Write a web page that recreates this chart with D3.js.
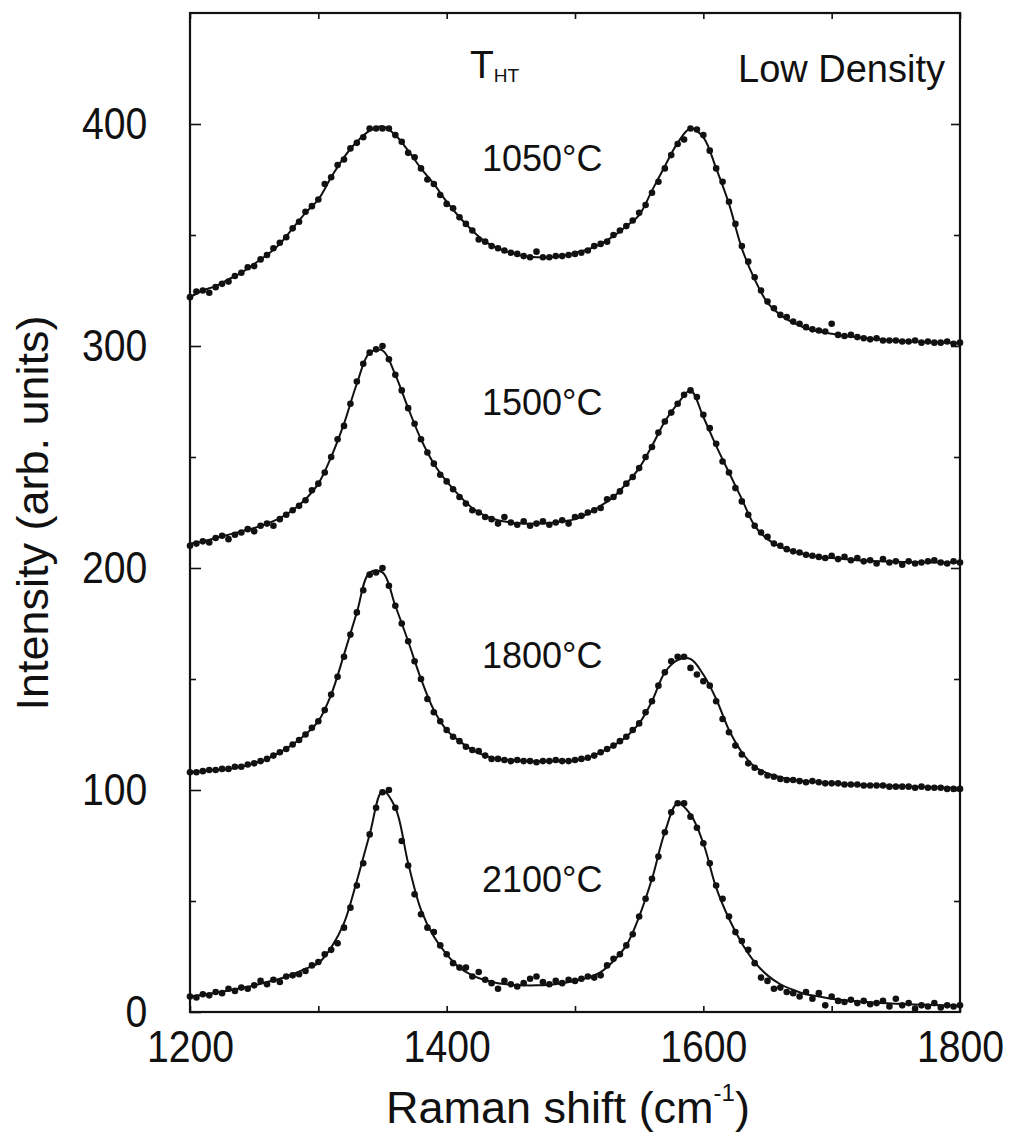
<!DOCTYPE html>
<html><head><meta charset="utf-8">
<script src="https://cdn.jsdelivr.net/npm/d3@7"></script>
<style>
body{margin:0;background:#fff}
text{font-family:"Liberation Sans",Arial,Helvetica,sans-serif;fill:#111}
</style>
</head><body><svg id="c" width="1016" height="1134"></svg>
<script>
// ---- data ----
const fitShift = d3.range(1200, 1801, 10);   // cm^-1 grid of fitted curves
const dotShift = d3.range(1200, 1801, 5);    // cm^-1 grid of measured points
const seriesNames = ["1050°C", "1500°C", "1800°C", "2100°C"];

const fit1050 = [322,325,327,330,333,337,341,346,353,360,366,376,385,392,397,399,395,388,380,373,365,358,352,347,344,342,340.5,340,340,340.5,342,343.5,346,349.5,354,359,370,381,391.5,398,394,380,364,344,330,319.5,314,310.5,308,306.5,305.5,304.5,304,303.3,302.8,302.4,302,301.8,301.6,301.5,301.3];
const fit1500 = [211,212,213.5,215,216.5,218,220,222.5,226,231,238,250,265,283,297,298,287,272,258,247,239,232.5,227,223.5,221.5,220.5,220,220,220.3,221,222,224.5,228,232,238,245,255,266,274,280,268,255,243,231,219,213,209.5,207.5,206,205,204.5,204,203.5,203.2,203,202.8,202.7,202.6,202.5,202.5,202.5];
const fit1800 = [108,108.5,109,109.5,110.5,112,114,117,120.5,125,131,143,161,180,198,198,183,167,150,136,127,122,118,115.5,114,113.5,113.2,113,113,113,113.3,114.5,117,120,124,130,140,153,158.5,159,152,141,127,117,110.5,107.5,105.8,104.6,103.9,103.4,103,102.7,102.4,102.2,102,101.8,101.6,101.4,101.2,101,100.8];
const fit2100 = [7,7.8,8.7,9.7,10.8,12,13.5,15,17,19.5,22,29,40,59,80,99.5,92,67,46,34,26,20,16.5,14.3,13,12.3,12,12,12.3,13,14,15.5,18,23,30,43,60,81,94,89,76,56,42,31,22.5,16.5,12.5,10,8,7,6,5.3,4.8,4.4,4,3.7,3.5,3.3,3.1,3,2.9];

const dots1050 = [322,324.5,325,324,326.5,328,329,331.5,333,335.5,
 336,339,341,344,346.5,349,353,356,360.5,363,
 366,373,376,381.5,384,389,391.5,394,398,398,
 398,398,395,392,387,385,380,375,373,368,
 364,362,358,355,352,348,347,345,344,343,
 342,341.5,340.5,340,342.5,340,340,340.5,340.5,341,
 341.5,342,343,345,346,347,350,352,354,356.5,
 360,363.5,369,374,380,386,391,393,398,397.5,
 395,388,380,374,365,355,345,338,331,325,
 320,317,314,313,311,310,308.5,307.5,307,306.5,
 310,305,304.5,305,304,303.5,303,303.5,302.5,302.5,
 302.5,302,302,302.5,301.5,302,301.5,301.5,302,301,
 301.5];
const dots1500 = [210,211,212,211.5,213.5,214.5,213,215,216,217.5,
 216.5,219,220,219,222,224,226,228,230.5,235,
 238,243,250,258,264,274,284,292,297,298.5,
 300,294,287,280,272,265,258,252,247,242,
 239,235.5,232,229,226,225,223,222,220,223,
 220.5,219.5,221,219,220,221,219.5,220.5,221.5,220,
 223,223.5,225,226,227,231,232,234.5,238,241,
 245,250,254.5,261,266,270,274,278,280,277,
 269,263,256,248,243,236,230,224,219,216,
 214,211,210,208.5,207.5,207,206,205.5,205,204.5,
 205.5,204,205,203.5,204.5,203,203.5,202,204,202.5,
 203,201.5,203,202,202.5,203,203.5,202.5,202,203,
 202.5];
const dots1800 = [108,108,108.5,109,109,109.5,109.5,110.5,110.5,111.5,
 112,113,114,115.5,117,118.5,120.5,122.5,125,128,
 131,136,143,151,160,170,180,190,197,198,
 200,192,183,175,167,158,150,141,135,131,
 127,124,122,119.5,118,117.5,115.5,114,114,113.5,
 113,113.5,113,113,112.5,113,113,113.5,113,113,
 113.5,114,114.5,115.5,117,118.5,120,122,124,127,
 130,135,140,147,153,158,160,160,155,152,
 149,147,140,132,126,120,116,112,110,108,
 106.5,106,105,104.5,104.5,104,103.5,104,103.5,103,
 103,103,102.5,102.5,102.5,102,102,102,102,101.5,
 101.5,101.5,101.5,101,101.5,101,101,101,100.5,100.5,
 100.5];
const dots2100 = [7,6.5,8,7.5,9,8.5,10.5,9.5,11,10.5,
 12,14,12.5,14.5,13.5,16,16.5,17,18.5,21,
 22.5,26,28,31,38,47,57,67,80,92,
 99,100,92,77,66,53,44,38,36,30,
 26,22,20,20,16,18,14.5,13,10.5,14,
 12.5,11.5,13,15,16,13.5,12.5,14,13,14.5,
 14,15,16,15.5,16.5,21,24,26,30,35,
 43,51,60,70,81,90,94,94,88,83,
 76,67,57,51,43,36,32,28,22,15.5,
 14,10.5,11,9,8.5,7,9,6,8.5,3,
 7,5,4.5,5.5,4,5,3.5,4,5,2.5,
 6,3,4,1.5,3,2.5,4,2,3,2.5,
 3];

const xTicks = [1200,1300,1400,1500,1600,1700,1800];
const xTickLabels = [1200,1400,1600,1800];
const yMajorTicks = [0,100,200,300,400];
const yMinorTicks = [50,150,250,350];

const fits = [fit1050, fit1500, fit1800, fit2100];
const dots = [dots1050, dots1500, dots1800, dots2100];

// ---- drawing ----
const svg = d3.select("#c");
const L = 190, R = 960, T = 13, B = 1012;
const x = d3.scaleLinear().domain([1200, 1800]).range([L, R]);
const y = d3.scaleLinear().domain([0, 450]).range([B, T]);
const SX = 0.89; // narrow numerals as in the original

function styleAxis(g){
  g.select(".domain").remove();
  g.selectAll(".tick line").attr("stroke","#111").attr("stroke-width",1.6);
  g.selectAll(".tick text").attr("fill","#111").style("font-size","44px")
   .style("font-family",'"Liberation Sans",Arial,sans-serif')
   .attr("transform",`scale(${SX},1)`);
}

// bottom
svg.append("g").attr("transform",`translate(0,${B})`)
  .call(d3.axisBottom(x).tickValues(xTicks).tickSize(-6).tickPadding(19)
    .tickFormat(d => xTickLabels.includes(d) ? String(d) : ""))
  .call(styleAxis);
// top
svg.append("g").attr("transform",`translate(0,${T})`)
  .call(d3.axisTop(x).tickValues(xTicks).tickSize(-6).tickFormat(""))
  .call(styleAxis);
// left
svg.append("g").attr("transform",`translate(${L},0)`)
  .call(d3.axisLeft(y).tickValues(yMajorTicks).tickSize(-11).tickPadding(48).tickFormat(d3.format("d")))
  .call(styleAxis);
svg.append("g").attr("transform",`translate(${L},0)`)
  .call(d3.axisLeft(y).tickValues(yMinorTicks).tickSize(-6).tickFormat(""))
  .call(styleAxis);
// right
svg.append("g").attr("transform",`translate(${R},0)`)
  .call(d3.axisRight(y).tickValues(yMajorTicks.filter(d=>d>0)).tickSize(-9).tickFormat(""))
  .call(styleAxis);
svg.append("g").attr("transform",`translate(${R},0)`)
  .call(d3.axisRight(y).tickValues(yMinorTicks).tickSize(-6).tickFormat(""))
  .call(styleAxis);

// frame
svg.append("rect").attr("x",L).attr("y",T).attr("width",R-L).attr("height",B-T)
  .attr("fill","none").attr("stroke","#111").attr("stroke-width",2.2);

// curves
const line = d3.line().x((d,i)=>x(fitShift[i])).y(d=>y(d)).curve(d3.curveCatmullRom.alpha(0.5));
fits.forEach(f=>{
  svg.append("path").datum(f).attr("d",line).attr("fill","none")
    .attr("stroke","#111").attr("stroke-width",2);
});
dots.forEach(ds=>{
  svg.append("g").selectAll("circle").data(ds).join("circle")
    .attr("cx",(d,i)=>x(dotShift[i])).attr("cy",d=>y(d)).attr("r",3.3).attr("fill","#111");
});

// labels
const labelBase = [171, 415, 668, 892];
seriesNames.forEach((s,i)=>{
  svg.append("text").attr("x",482).attr("y",labelBase[i]).style("font-size","36px").text(s);
});
const th = svg.append("text").attr("x",470).attr("y",78).style("font-size","39px");
th.append("tspan").text("T");
th.append("tspan").attr("dy",4).style("font-size","19px").text("HT");

svg.append("text").attr("x",945).attr("y",82).attr("text-anchor","end")
  .style("font-size","38px").text("Low Density");

// axis titles
svg.append("text").attr("transform","translate(48,513) rotate(-90)")
  .attr("text-anchor","middle").style("font-size","45px").text("Intensity (arb. units)");
const xt = svg.append("text").attr("x",568).attr("y",1123).attr("text-anchor","middle").style("font-size","45px");
xt.append("tspan").text("Raman shift (cm");
xt.append("tspan").attr("dy",-22).style("font-size","24px").text("-1");
xt.append("tspan").attr("dy",22).text(")");
</script></body></html>
